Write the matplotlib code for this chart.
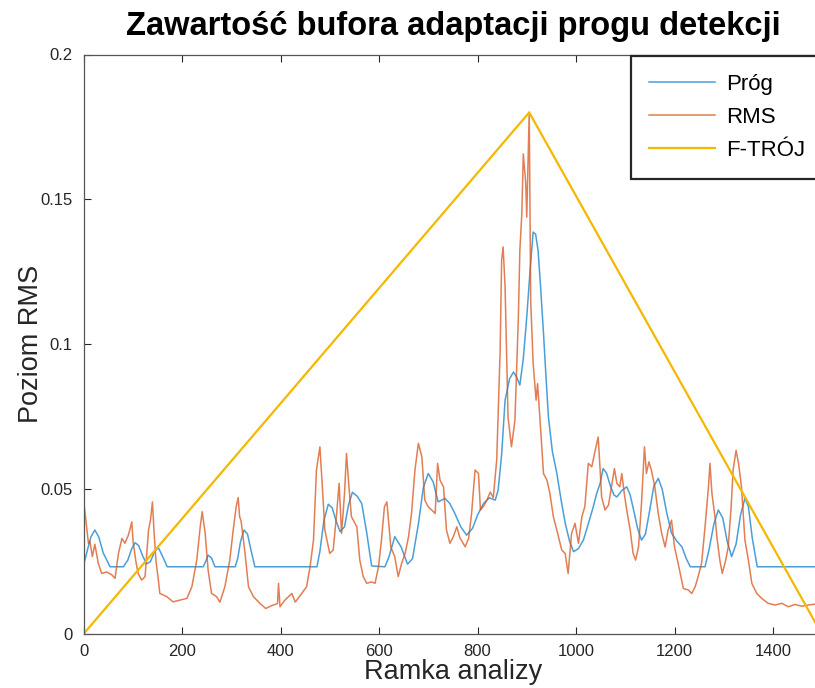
import matplotlib.pyplot as plt

# threshold curve (Próg)
prog_x = [0, 8, 15, 23, 31, 40, 54, 81, 90, 98, 105, 112, 120, 128, 136, 144, 152, 160, 170,
          243, 248, 253, 260, 267, 308, 313, 319, 326, 333, 340, 348, 474, 480, 488, 497, 505,
          513, 521, 530, 538, 546, 556, 565, 575, 585, 612, 620, 632, 645, 658, 668, 680, 690,
          700, 710, 720, 734, 744, 754, 766, 778, 790, 800, 812, 824, 836, 842, 849, 856, 865,
          873, 880, 886, 893, 900, 907, 913, 918, 923, 928, 934, 939, 944, 952, 961, 970, 978,
          987, 995, 1005, 1015, 1025, 1035, 1042, 1049, 1055, 1062, 1070, 1077, 1083, 1093,
          1103, 1110, 1118, 1125, 1133, 1141, 1150, 1158, 1167, 1175, 1184, 1194, 1205, 1215,
          1224, 1232, 1262, 1270, 1280, 1289, 1298, 1307, 1316, 1325, 1334, 1343, 1350, 1358,
          1368, 1500]
prog_y = [0.0238, 0.029, 0.0335, 0.0359, 0.0335, 0.028, 0.0232, 0.0232, 0.0255, 0.0295, 0.0315,
          0.0305, 0.027, 0.0242, 0.025, 0.0283, 0.0298, 0.027, 0.0232,
          0.0232, 0.025, 0.0272, 0.0262, 0.0232, 0.0232, 0.026, 0.032, 0.0359, 0.0345, 0.029,
          0.0232, 0.0232, 0.0285, 0.039, 0.0448, 0.0435,
          0.039, 0.0353, 0.037, 0.0445, 0.0489, 0.0475, 0.045, 0.035, 0.0235, 0.0232, 0.0265,
          0.0336, 0.03, 0.0241, 0.026, 0.038, 0.0505,
          0.0554, 0.0525, 0.0456, 0.0468, 0.045, 0.0416, 0.037, 0.0341, 0.0365, 0.041, 0.045,
          0.047, 0.0462, 0.0497, 0.062, 0.0807, 0.088,
          0.0904, 0.0885, 0.0859, 0.095, 0.1094, 0.126, 0.1387, 0.138, 0.1324, 0.12, 0.1038,
          0.089, 0.0749, 0.063, 0.0555, 0.046, 0.0383,
          0.032, 0.0284, 0.0295, 0.0324, 0.038, 0.0439, 0.0485, 0.052, 0.0571, 0.0555, 0.051,
          0.048, 0.0473, 0.0495,
          0.0508, 0.048, 0.042, 0.0365, 0.0324, 0.0345, 0.043, 0.051, 0.0537, 0.05, 0.042,
          0.0348, 0.032, 0.0301,
          0.026, 0.0232, 0.0232, 0.029, 0.038, 0.0428, 0.04, 0.032, 0.0267, 0.031, 0.041,
          0.0468, 0.044, 0.033,
          0.0232, 0.0232]

# frame RMS level
rms_x = [0, 5, 10, 13, 18, 23, 30, 37, 47, 57, 64, 71, 78, 84, 91, 94, 98, 101, 107, 111, 118,
         125, 132, 136, 140, 143, 147, 152, 155, 169, 182, 196, 210, 220, 230, 237, 241, 247,
         253, 260, 270, 277, 287, 297, 304, 310, 314, 317, 320, 328, 335, 345, 358, 370, 382,
         394, 396, 399, 409, 423, 430, 443, 453, 460, 467, 473, 480, 485, 490, 500, 507, 514,
         519, 524, 530, 534, 539, 544, 555, 561, 568, 575, 585, 592, 599, 605, 611, 616, 621,
         624, 632, 639, 646, 653, 660, 666, 673, 680, 687, 693, 700, 707, 714, 719, 724, 731,
         737, 744, 751, 758, 764, 775, 782, 788, 795, 802, 806, 812, 819, 826, 832, 839, 846,
         849, 852, 856, 859, 862, 869, 876, 883, 886, 890, 893, 898, 900, 905, 908, 913, 919,
         922, 927, 934, 941, 947, 954, 961, 971, 978, 984, 991, 998, 1005, 1012, 1018, 1025,
         1032, 1039, 1045, 1049, 1052, 1059, 1066, 1072, 1078, 1083, 1089, 1093, 1098, 1103,
         1110, 1116, 1121, 1127, 1133, 1139, 1143, 1148, 1153, 1160, 1167, 1174, 1181, 1187,
         1194, 1200, 1206, 1213, 1218, 1228, 1235, 1242, 1248, 1255, 1262, 1269, 1272, 1276,
         1283, 1286, 1292, 1297, 1304, 1309, 1315, 1319, 1325, 1330, 1336, 1343, 1350, 1357,
         1367, 1377, 1390, 1404, 1418, 1431, 1445, 1458, 1472, 1485, 1500]
rms_y = [0.0462, 0.039, 0.0313, 0.032, 0.0267, 0.031, 0.0244, 0.0209, 0.0214, 0.0205, 0.0192,
         0.0278, 0.033, 0.0313, 0.0341, 0.0359, 0.0387, 0.0313, 0.0244, 0.0209, 0.0186,
         0.0198, 0.0359, 0.0393, 0.0456, 0.0359, 0.0255, 0.0186, 0.014, 0.0129, 0.0111, 0.0117,
         0.0123, 0.0163, 0.0255, 0.037, 0.0422, 0.0348,
         0.0221, 0.014, 0.0129, 0.011, 0.0163, 0.0255, 0.0359, 0.0439, 0.0471, 0.0405, 0.039,
         0.0278, 0.0163, 0.0129, 0.0106, 0.0088, 0.0098,
         0.0105, 0.0175, 0.0094, 0.0117, 0.014, 0.011, 0.014, 0.0163, 0.0232, 0.0324, 0.0566,
         0.0646, 0.0508, 0.0359, 0.0278, 0.029, 0.0416,
         0.052, 0.0347, 0.0485, 0.0623, 0.0508, 0.0405, 0.037, 0.0255, 0.0198, 0.0175, 0.018,
         0.0175, 0.0232, 0.0324, 0.0439, 0.0456, 0.0359,
         0.03, 0.0267, 0.0198, 0.0244, 0.0278, 0.0336, 0.0416, 0.0566, 0.0658, 0.0612, 0.0462,
         0.0439, 0.0428, 0.0416, 0.0589, 0.053, 0.0508,
         0.0359, 0.0313, 0.0336, 0.037, 0.0333, 0.0301, 0.033, 0.0416, 0.0566, 0.0554, 0.0428,
         0.044, 0.0462, 0.049, 0.047, 0.06, 0.0979,
         0.129, 0.1336, 0.1198, 0.0968, 0.0749, 0.0646, 0.0738, 0.1094, 0.1324, 0.145, 0.1657,
         0.1554, 0.1439, 0.1801, 0.1152, 0.0933, 0.0807,
         0.0864, 0.0738, 0.0554, 0.0531, 0.0485, 0.0405, 0.0359, 0.029, 0.0278, 0.0209, 0.0347,
         0.0382, 0.0313, 0.0405, 0.044, 0.0589,
         0.0577, 0.0634, 0.068, 0.0566, 0.0473, 0.0428, 0.0445, 0.0508, 0.0571, 0.052, 0.0508,
         0.0554, 0.0485, 0.0428,
         0.0359, 0.0278, 0.0255, 0.0301, 0.0451, 0.0646, 0.0554, 0.0594, 0.0566, 0.0508, 0.0416,
         0.0347, 0.03, 0.0359,
         0.0393, 0.03, 0.0255, 0.0198, 0.0157, 0.0152, 0.014, 0.0163, 0.0198, 0.0244, 0.037,
         0.0508, 0.0589, 0.0485,
         0.0393, 0.0336, 0.0255, 0.0209, 0.0255, 0.03, 0.0439, 0.0566, 0.0634, 0.0589, 0.0508,
         0.0324, 0.0255, 0.0175,
         0.014, 0.0123, 0.0106, 0.01, 0.0106, 0.0094, 0.0102, 0.0096, 0.01, 0.0103, 0.0098]

# triangular weighting window (F-TRÓJ)
tri_x = [0, 905, 1499]
tri_y = [0.0, 0.18, 0.0]

xticks = [0, 200, 400, 600, 800, 1000, 1200, 1400]
yticks = [0, 0.05, 0.1, 0.15, 0.2]
ytick_labels = ['0', '0.05', '0.1', '0.15', '0.2']

plt.rcParams['font.family'] = ['Liberation Sans', 'DejaVu Sans']
ink = '#262626'

fig = plt.figure(figsize=(8.15, 6.88), dpi=100)
ax = fig.add_axes([83.5 / 815, 54 / 688, 738.75 / 815, 579.5 / 688])

ax.plot(prog_x, prog_y, color='#4a9fd8', lw=1.1, label='Próg')
ax.plot(rms_x, rms_y, color='#d95319', lw=1.1, alpha=0.75, label='RMS')
ax.plot(tri_x, tri_y, color='#f5b800', lw=1.6, label='F-TRÓJ')

ax.set_xlim(0, 1500)
ax.set_ylim(0, 0.2)
ax.set_xticks(xticks)
ax.set_yticks(yticks)
ax.set_yticklabels(ytick_labels)
ax.tick_params(direction='in', length=5, width=0.8, colors=ink, labelsize=12,
               top=True, right=False)
ax.tick_params(axis='y', pad=8)
ax.tick_params(axis='x', pad=7)
for side in ['left', 'bottom', 'top']:
    ax.spines[side].set_color('#555555')
    ax.spines[side].set_linewidth(0.9)
ax.spines['right'].set_visible(False)

ax.set_title('Zawartość bufora adaptacji progu detekcji', fontsize=23.5, fontweight='bold',
             pad=14, color='black')
ax.set_xlabel('Ramka analizy', fontsize=19.5, color=ink, labelpad=0)
ax.set_ylabel('Poziom RMS', fontsize=19.5, color=ink, labelpad=-3)

leg = ax.legend(loc='upper left', bbox_to_anchor=(0.7411, 0.9974), borderaxespad=0,
                fontsize=16, handlelength=3.0, handletextpad=0.5, labelspacing=0.55,
                fancybox=False, framealpha=1, borderpad=0.8)
leg.get_frame().set_edgecolor(ink)
leg.get_frame().set_linewidth(1.6)

fig.savefig('out.png', dpi=100)
